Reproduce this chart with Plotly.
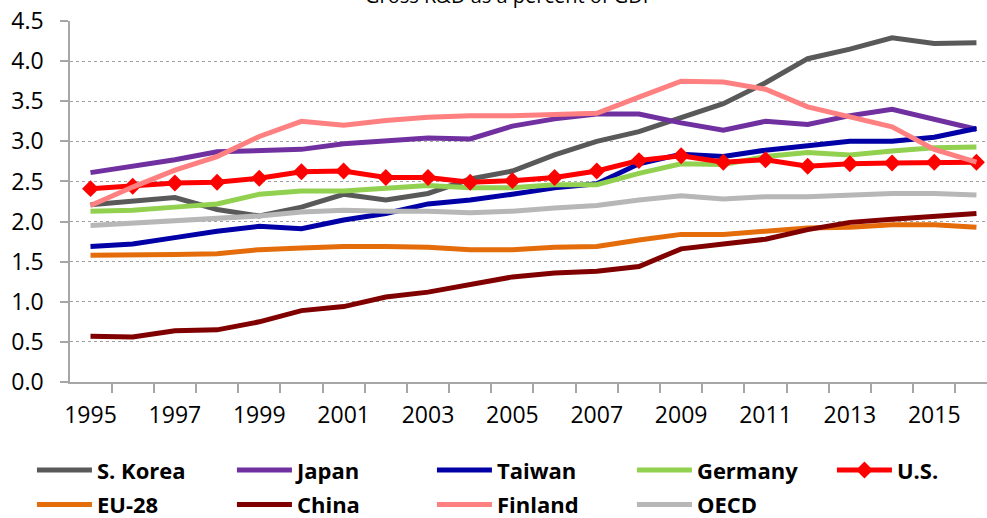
import plotly.graph_objects as go

years = list(range(1995, 2017))

s_korea = [2.21, 2.26, 2.30, 2.15, 2.07, 2.18, 2.34, 2.27, 2.35, 2.53, 2.63, 2.83, 3.00, 3.12, 3.29, 3.47, 3.73, 4.03, 4.15, 4.29, 4.22, 4.23]
japan   = [2.61, 2.69, 2.77, 2.87, 2.89, 2.90, 2.97, 3.01, 3.04, 3.03, 3.19, 3.28, 3.34, 3.34, 3.23, 3.14, 3.25, 3.21, 3.32, 3.40, 3.28, 3.15]
taiwan  = [1.69, 1.72, 1.80, 1.88, 1.94, 1.91, 2.02, 2.10, 2.22, 2.27, 2.34, 2.42, 2.47, 2.72, 2.84, 2.81, 2.89, 2.95, 3.00, 3.00, 3.05, 3.16]
germany = [2.13, 2.14, 2.18, 2.22, 2.34, 2.38, 2.38, 2.41, 2.45, 2.42, 2.42, 2.46, 2.46, 2.60, 2.72, 2.71, 2.81, 2.86, 2.83, 2.88, 2.92, 2.93]
us      = [2.41, 2.44, 2.48, 2.49, 2.54, 2.62, 2.63, 2.55, 2.55, 2.49, 2.51, 2.55, 2.63, 2.76, 2.82, 2.74, 2.77, 2.69, 2.72, 2.73, 2.74, 2.74]
eu28    = [1.58, 1.58, 1.59, 1.60, 1.65, 1.67, 1.69, 1.69, 1.68, 1.65, 1.65, 1.68, 1.69, 1.77, 1.84, 1.84, 1.88, 1.92, 1.93, 1.96, 1.96, 1.93]
china   = [0.57, 0.56, 0.64, 0.65, 0.75, 0.89, 0.94, 1.06, 1.12, 1.22, 1.31, 1.36, 1.38, 1.44, 1.66, 1.72, 1.78, 1.90, 1.99, 2.03, 2.07, 2.10]
finland = [2.20, 2.43, 2.64, 2.81, 3.06, 3.25, 3.20, 3.26, 3.30, 3.32, 3.32, 3.33, 3.35, 3.55, 3.75, 3.74, 3.65, 3.43, 3.30, 3.18, 2.90, 2.74]
oecd    = [1.95, 1.98, 2.00, 2.03, 2.07, 2.12, 2.14, 2.13, 2.13, 2.11, 2.13, 2.17, 2.20, 2.27, 2.32, 2.28, 2.31, 2.31, 2.33, 2.35, 2.35, 2.33]

series = [
    ("S. Korea", s_korea, "#595959", "legend"),
    ("Japan", japan, "#7030A0", "legend"),
    ("Taiwan", taiwan, "#0000A6", "legend"),
    ("Germany", germany, "#92D050", "legend"),
    ("U.S.", us, "#FF0000", "legend"),
    ("EU-28", eu28, "#E46C0A", "legend2"),
    ("China", china, "#800000", "legend2"),
    ("Finland", finland, "#FF8080", "legend2"),
    ("OECD", oecd, "#B7B7B7", "legend2"),
]

x_tick_vals = list(range(1995, 2016, 2))
x_tick_text = [str(v) for v in x_tick_vals]
y_tick_vals = [0, 0.5, 1.0, 1.5, 2.0, 2.5, 3.0, 3.5, 4.0, 4.5]
y_tick_text = [f"{v:.1f}" for v in y_tick_vals]

fig = go.Figure()
for name, vals, color, lg in series:
    is_us = name == "U.S."
    last_in_row = name in ("U.S.", "OECD")
    fig.add_trace(go.Scatter(
        x=years, y=vals, name=name, legend=lg,
        mode="lines+markers" if is_us else "lines",
        line=dict(color=color, width=5),
        marker=dict(symbol="diamond", size=13, color=color) if is_us else None,
        legendwidth=60 if last_in_row else None,
    ))

FONT = "Open Sans, Lato, DejaVu Sans, sans-serif"
fig.update_layout(
    width=987, height=518,
    margin=dict(l=70, r=0, t=21, b=136, autoexpand=False),
    paper_bgcolor="white", plot_bgcolor="white",
    font=dict(family=FONT, color="black"),
    xaxis=dict(
        range=[1994.514, 2016.25],
        tickvals=x_tick_vals, ticktext=x_tick_text,
        ticks="", showgrid=False, zeroline=False,
        showline=True, linecolor="#A6A6A6", linewidth=1.5,
        tickfont=dict(size=23, family=FONT),
        ticklabelstandoff=12,
        minor=dict(ticks="outside", tick0=1994.5, dtick=1, ticklen=9,
                   tickcolor="#A6A6A6", tickwidth=1.5, showgrid=False),
    ),
    yaxis=dict(
        range=[0, 4.5],
        tickvals=y_tick_vals, ticktext=y_tick_text,
        ticks="outside", ticklen=8, tickcolor="#A6A6A6", tickwidth=1.5,
        showline=True, linecolor="#A6A6A6", linewidth=1.5,
        showgrid=True, gridcolor="#A0A0A0", griddash="dot", gridwidth=1,
        zeroline=False,
        tickfont=dict(size=23, family=FONT),
        ticklabelstandoff=12,
    ),
    legend=dict(
        orientation="h", x=-0.0415, y=-0.186, xanchor="left", yanchor="top",
        itemwidth=55, entrywidth=130, entrywidthmode="pixels",
        font=dict(size=22, family=FONT, weight="bold"),
        bgcolor="rgba(0,0,0,0)",
    ),
    legend2=dict(
        orientation="h", x=-0.0415, y=-0.282, xanchor="left", yanchor="top",
        itemwidth=55, entrywidth=130, entrywidthmode="pixels",
        font=dict(size=22, family=FONT, weight="bold"),
        bgcolor="rgba(0,0,0,0)",
    ),
    annotations=[dict(
        text="Gross R&amp;D as a percent of GDP", xref="paper", yref="paper",
        x=(510 - 70) / 917, y=1.029, xanchor="center", yanchor="bottom",
        showarrow=False, font=dict(size=20, family=FONT, color="black"),
    )],
)

fig.write_html(
    "out.html",
    config={"displayModeBar": False},
    post_script="document.body.style.margin='0';document.body.style.overflow='hidden';",
)
